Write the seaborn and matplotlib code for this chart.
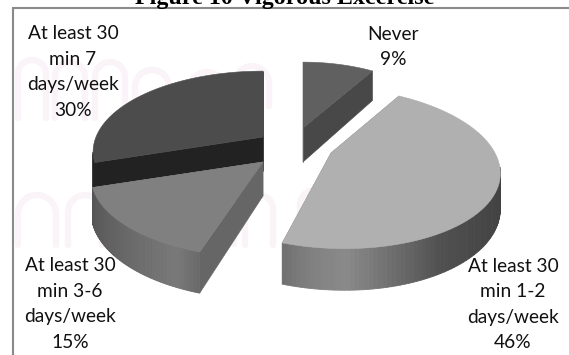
import numpy as np
import matplotlib
matplotlib.use("Agg")
import matplotlib.pyplot as plt
from matplotlib.patches import Polygon
import seaborn as sns

# data (clockwise from 12 o'clock)
categories = ["Never", "At least 30\nmin 1-2\ndays/week", "At least 30\nmin 3-6\ndays/week", "At least 30\nmin 7\ndays/week"]
values = [9, 46, 15, 30]
title = "Figure 10 Vigorous Excercise"

sns.set_theme(style="white")
plt.rcParams["font.family"] = ["Lato", "DejaVu Sans"]

# wedge styling / layout
apex = [(303, 128), (331, 153), (263, 162), (263, 137)]
scale_x = [150, 164, 169, 167]
skew = [0, -11, 0, 0]
top_col = ["#606060", "#b0b0b0", "#808080", "#4c4c4c"]
face_start = ["#606060", "#808080", "#666666", "#222222"]
face_end = ["#484848", "#808080", "#808080", "#4c4c4c"]
rim_t = [[0, 360], [90, 130, 150, 165, 180, 190, 198], [198, 205, 225, 252], [252, 360]]
rim_g = [[0x48, 0x48], [0x3e, 0x46, 0x50, 0x6c, 0x8a, 0x80, 0x70], [0x68, 0x78, 0x68, 0x55], [0x22, 0x22]]
B, K, DEPTH = 78.0, 0.184, 34.0
draw_order = [3, 0, 1, 2]
label_x = [393, 513, 70, 73]
label_y = [47, 304.5, 304, 72]
# pale background watermark strokes (left, top, width, height)
wm_glyphs = [(18, 60, 28, 58), (55, 62, 30, 56), (95, 62, 30, 56), (135, 70, 34, 50), (190, 72, 34, 44), (235, 66, 34, 40),
             (18, 195, 38, 50), (68, 195, 34, 50), (112, 195, 30, 50), (152, 195, 34, 50), (200, 198, 34, 46),
             (245, 195, 28, 50), (300, 190, 30, 55), (340, 195, 26, 50)]
wm_col = "#faf3f7"

fig = plt.figure(figsize=(5.69, 3.55), dpi=100)
ax = fig.add_axes([0, 0, 1, 1])
ax.set_xlim(0, 569)
ax.set_ylim(355, 0)
ax.axis("off")

for left, top, w, h in wm_glyphs:
    a = np.linspace(np.pi, 0, 30)
    gx = left + w / 2 + w / 2 * np.cos(a)
    gy = top + w / 2 - w / 2 * np.sin(a)
    ax.plot(np.r_[left, gx, left + w], np.r_[top + h, gy, top + h], color=wm_col, lw=4.5, zorder=0)

def project(i, t):
    t = np.radians(t)
    X, Y = np.sin(t), np.cos(t)
    d = 1 + K * Y
    return (apex[i][0] + (scale_x[i] * X + skew[i] * Y) / d,
            apex[i][1] - B * Y / d,
            DEPTH / d)

edges = np.concatenate([[0], np.cumsum(values)]) * 3.6
for i in draw_order:
    t0, t1 = edges[i], edges[i + 1]
    ts = np.linspace(t0, t1, 121)
    x, y, dp = project(i, ts)
    # cut faces
    ax0, ay0 = apex[i]
    for k, col in ((-1, face_end[i]), (0, face_start[i])):
        face = [(ax0, ay0), (x[k], y[k]), (x[k], y[k] + dp[k]), (ax0, ay0 + DEPTH)]
        ax.add_patch(Polygon(face, fc=col, ec=col, lw=0.4))
    # front-facing outer rim, shaded strip by strip
    for j in range(len(ts) - 1):
        tm = 0.5 * (ts[j] + ts[j + 1])
        if np.cos(np.radians(tm)) > -K:
            continue
        g = np.interp(tm, rim_t[i], rim_g[i]) / 255
        quad = [(x[j], y[j]), (x[j + 1], y[j + 1]), (x[j + 1], y[j + 1] + dp[j + 1]), (x[j], y[j] + dp[j])]
        ax.add_patch(Polygon(quad, fc=(g, g, g), ec=(g, g, g), lw=0.6))
    # top surface
    ax.add_patch(Polygon(np.column_stack([np.r_[ax0, x], np.r_[ay0, y]]), fc=top_col[i], ec=top_col[i], lw=0.4))

for i, c in enumerate(categories):
    ax.text(label_x[i], label_y[i], f"{c}\n{values[i]}%", ha="center", va="center",
            fontsize=13.8, color="#111111", linespacing=1.6)

# frame of the embedded picture
ax.plot([13, 13, 569], [355, 8, 8], color="#8a8a8a", lw=1.5, solid_joinstyle="miter")
ax.text(284.5, 4, title, ha="center", va="baseline", fontsize=17.3, fontweight="bold",
        family="Liberation Serif", color="black", clip_on=False)

fig.savefig("out.png", dpi=100, facecolor="white")
